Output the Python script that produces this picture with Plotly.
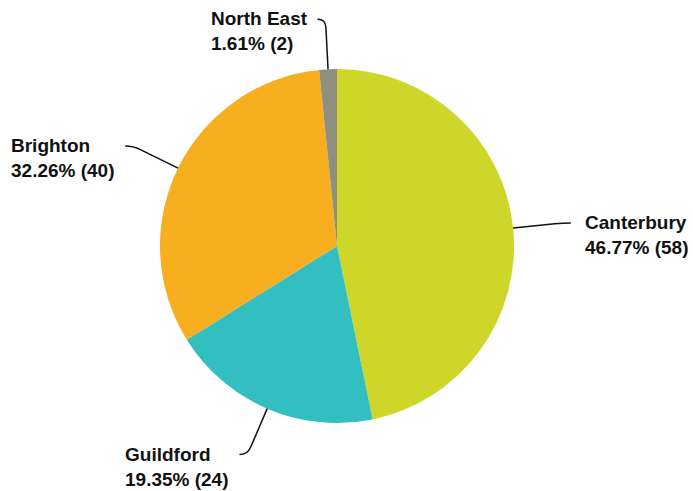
import math
import plotly.graph_objects as go

# Data
labels = ["Canterbury", "Guildford", "Brighton", "North East"]
values = [58, 24, 40, 2]
colors = ["#CED62A", "#33BEBF", "#F7AE1F", "#8F8F7F"]

# Canvas and pie geometry (pixels)
W, H = 693, 491
CX, CY, R = 337, 246, 177
LABEL_R = 227      # radius at which connector bends
TAIL = 8           # horizontal tail of connector
GAP_RIGHT = 12     # space between tail and label text, right-hand labels
GAP_LEFT = 8       # same, left-hand labels
FONT = dict(family="Liberation Sans, Arial, sans-serif", size=19, color="#111111")
LINE_H = 24

fig = go.Figure()

fig.add_trace(go.Pie(
    labels=labels,
    values=values,
    marker=dict(colors=colors, line=dict(width=0)),
    sort=False,
    direction="clockwise",
    rotation=0,
    textinfo="none",
    hoverinfo="label+percent+value",
    showlegend=False,
    domain=dict(x=[(CX - R) / W, (CX + R) / W],
                y=[1 - (CY + R) / H, 1 - (CY - R) / H]),
))

total = sum(values)
start = 0.0
shapes = []
annotations = []
for name, v in zip(labels, values):
    frac = v / total
    mid = math.radians((start + frac / 2) * 360)
    start += frac
    dx, dy = math.sin(mid), -math.cos(mid)
    x0, y0 = CX + R * dx, CY + R * dy
    cx, cy = CX + LABEL_R * dx, CY + LABEL_R * dy
    bx, by = CX + (LABEL_R - 8) * dx, CY + (LABEL_R - 8) * dy
    side = 1 if dx >= 0 else -1
    ex, ey = cx + side * TAIL, cy
    shapes.append(dict(
        type="path", xref="x", yref="y",
        path=f"M {x0:.2f},{y0:.2f} L {bx:.2f},{by:.2f} Q {cx:.2f},{cy:.2f} {ex:.2f},{ey:.2f}",
        line=dict(color="#111111", width=1.5),
    ))
    pct = f"{frac * 100:.2f}%"
    gap = GAP_RIGHT if side > 0 else GAP_LEFT
    annotations.append(dict(
        xref="x", yref="y",
        x=ex + side * gap, y=ey + LINE_H / 2,
        xanchor="left" if side > 0 else "right", yanchor="middle",
        align="left",
        text=f"<b>{name}</b><br><b>{pct} ({v})</b>",
        showarrow=False, font=FONT,
    ))

fig.update_layout(
    width=W, height=H,
    margin=dict(l=0, r=0, t=0, b=0),
    paper_bgcolor="white", plot_bgcolor="rgba(0,0,0,0)",
    xaxis=dict(range=[0, W], visible=False, fixedrange=True, domain=[0, 1]),
    yaxis=dict(range=[H, 0], visible=False, fixedrange=True, domain=[0, 1]),
    shapes=shapes,
    annotations=annotations,
)

fig.write_html("out.html")
